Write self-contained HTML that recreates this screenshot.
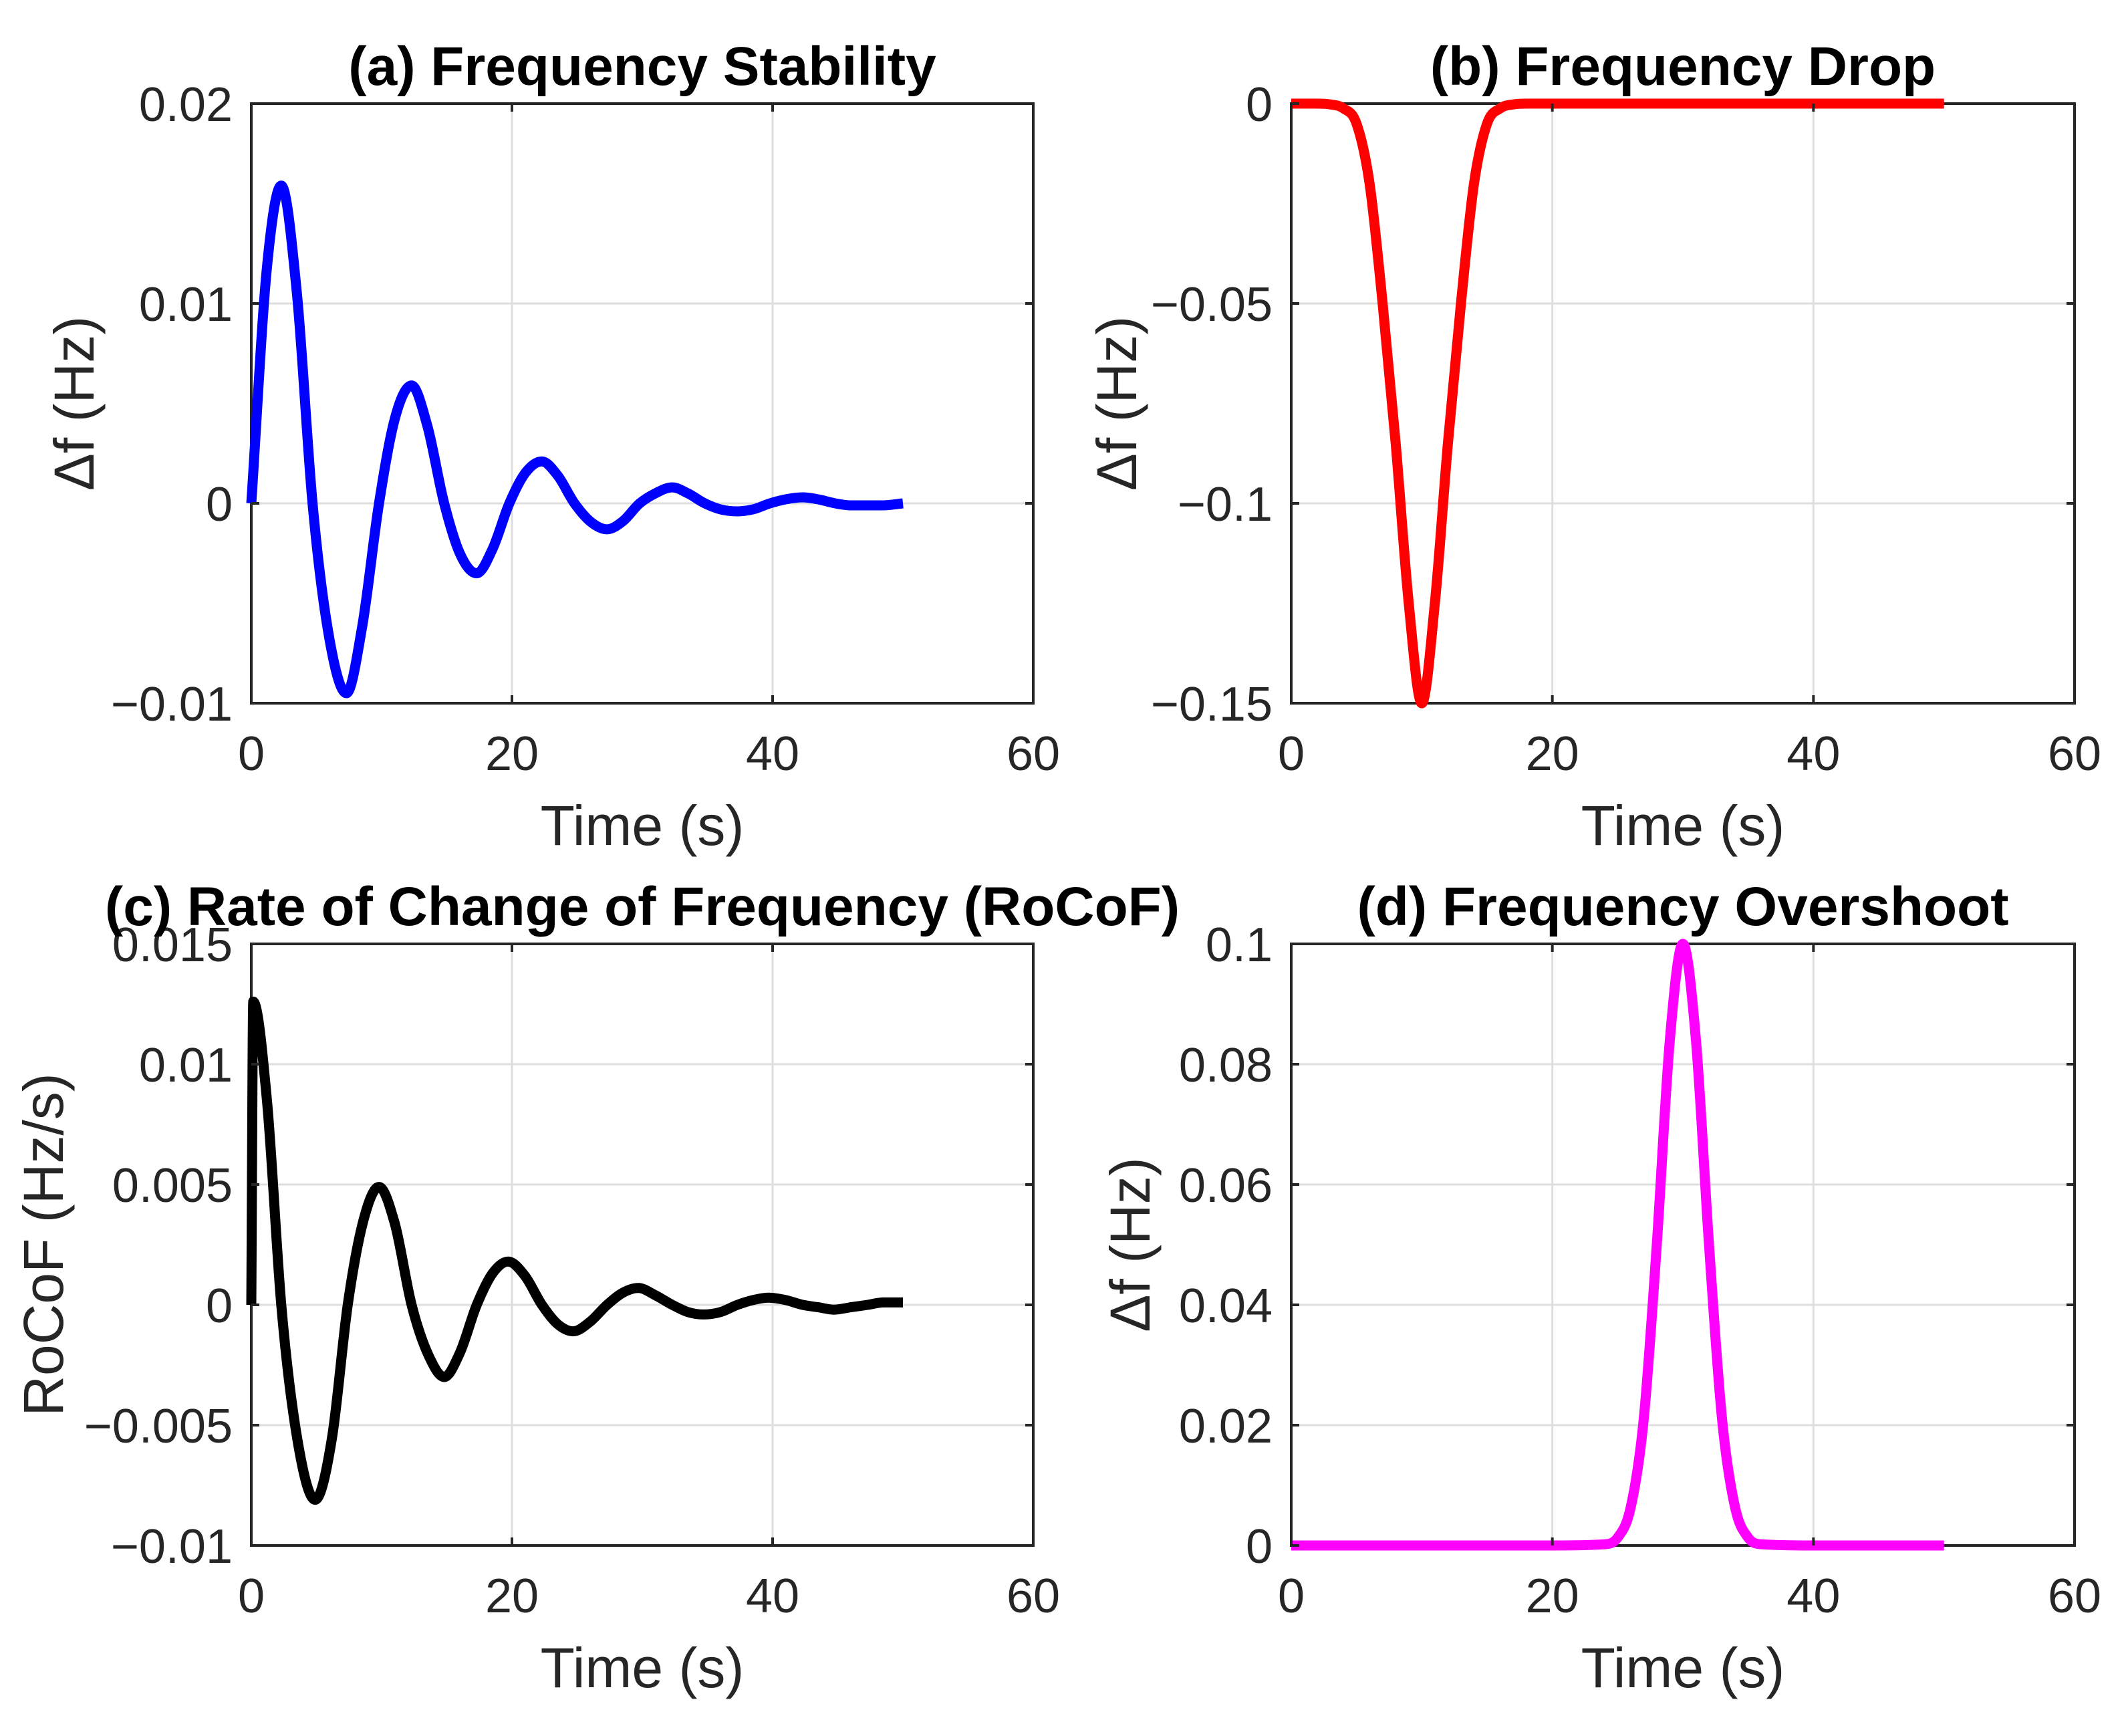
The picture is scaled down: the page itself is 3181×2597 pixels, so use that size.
<!DOCTYPE html>
<html><head><meta charset="utf-8"><style>
html,body{margin:0;padding:0;background:#fff;}
svg{display:block;font-family:"Liberation Sans",Arial,sans-serif;}
</style></head><body>
<svg id="fig" width="3181" height="2597" viewBox="0 0 3181 2597" xmlns="http://www.w3.org/2000/svg"></svg>
<script>
// Panel (a) Frequency Stability
const tA = [0,1.2,2.3,3.5,4.7,6,7.3,8.5,9.8,11,12.3,13.5,14.8,16,17.3,18.5,19.8,21,22.3,23.5,24.8,26,27.3,28.5,29.8,31,32.3,33.5,34.8,36,37.3,38.5,39.8,41,42.3,43.5,44.8,46,47.3,48.5,50];
const vA = [0,0.0118,0.0159,0.0105,0,-0.0068,-0.0095,-0.0062,0,0.0042,0.0059,0.0039,0,-0.0025,-0.0035,-0.0023,0,0.0015,0.0021,0.0014,0,-0.0009,-0.0013,-0.0009,0,0.0005,0.0008,0.0005,0,-0.0003,-0.0004,-0.0003,0,0.0002,0.0003,0.0002,0,-0.0001,-0.0001,-0.0001,0];
// Panel (b) Frequency Drop
const tB = [0,2,3,4,5,6,7,8,9,10,11,12,13,14,15,16,17,18,20,30,40,50];
const vB = [0,0,-0.0002,-0.0012,-0.005,-0.02,-0.05,-0.085,-0.125,-0.150,-0.125,-0.085,-0.05,-0.02,-0.005,-0.0012,-0.0002,0,0,0,0,0];
// Panel (c) RoCoF
const tC = [0,0.15,1.2,2.3,3.6,4.9,6.2,7.4,8.6,9.8,11,12.3,13.6,14.8,16,17.3,18.5,19.7,21,22.3,23.5,24.7,26,27.3,28.5,29.7,31,32.3,33.5,34.7,36,37.3,38.5,39.7,41,42.3,43.5,44.7,46,47.3,48.5,50];
const vC = [0,0.0126,0.0085,0,-0.0058,-0.0081,-0.0055,0,0.0035,0.0049,0.0034,0,-0.0021,-0.0030,-0.0020,0,0.0013,0.0018,0.0012,0,-0.0008,-0.0011,-0.0007,0,0.0005,0.0007,0.0004,0,-0.0003,-0.0004,-0.0003,0,0.0002,0.0003,0.0002,0,-0.0001,-0.0002,-0.0001,0,0.0001,0.0001];
// Panel (d) Frequency Overshoot
const tD = [0,10,20,24,25,26,27,28,29,30,31,32,33,34,35,36,40,50];
const vD = [0,0,0,0.0002,0.0013,0.0063,0.021,0.050,0.084,0.100,0.084,0.050,0.021,0.0063,0.0013,0.0002,0,0];
const xTicks = [0,20,40,60];
const yTicksA = [-0.01,0,0.01,0.02], yLabA = ["\u22120.01","0","0.01","0.02"];
const yTicksB = [-0.15,-0.1,-0.05,0], yLabB = ["\u22120.15","\u22120.1","\u22120.05","0"];
const yTicksC = [-0.01,-0.005,0,0.005,0.01,0.015], yLabC = ["\u22120.01","\u22120.005","0","0.005","0.01","0.015"];
const yTicksD = [0,0.02,0.04,0.06,0.08,0.1], yLabD = ["0","0.02","0.04","0.06","0.08","0.1"];

const NS="http://www.w3.org/2000/svg";
const svg=document.getElementById('fig');
function mk(tag,attrs,parent){const e=document.createElementNS(NS,tag);for(const k in attrs)e.setAttribute(k,attrs[k]);(parent||svg).appendChild(e);return e;}

function curvePath(t,v,sx,sy){
  const n=t.length, m=[], ds=[];
  for(let i=0;i<n-1;i++) ds.push((v[i+1]-v[i])/(t[i+1]-t[i]));
  for(let i=0;i<n;i++){
    if(i===0) m.push(ds[0]);
    else if(i===n-1) m.push(ds[n-2]);
    else{
      const d0=ds[i-1], d1=ds[i];
      if(d0*d1<=0) m.push(0);
      else{
        let mm=(d0*(t[i+1]-t[i])+d1*(t[i]-t[i-1]))/(t[i+1]-t[i-1]);
        const lim=3*Math.min(Math.abs(d0),Math.abs(d1));
        if(Math.abs(mm)>lim) mm=Math.sign(mm)*lim;
        m.push(mm);
      }
    }
  }
  let d='M'+sx(t[0])+','+sy(v[0]);
  for(let i=0;i<n-1;i++){
    const h=t[i+1]-t[i];
    d+=' C'+sx(t[i]+h/3)+','+sy(v[i]+m[i]*h/3)+' '+sx(t[i+1]-h/3)+','+sy(v[i+1]-m[i+1]*h/3)+' '+sx(t[i+1])+','+sy(v[i+1]);
  }
  return d;
}

function panel(cfg){
  const g=mk('g',{});
  
  
  const {x0,x1,y0,y1,ymin,ymax}=cfg;
  const sx=v=>x0+(v-0)/(60-0)*(x1-x0);
  const sy=v=>y1-(v-ymin)/(ymax-ymin)*(y1-y0);
  xTicks.forEach(t=>{ if(t>0&&t<60){const l=mk('line',{x1:sx(t),x2:sx(t),y1:y0,y2:y1,stroke:'#dedede','stroke-width':3},g);
    
    }});
  cfg.yt.forEach(v=>{ if(v>ymin&&v<ymax){const l=mk('line',{x1:x0,x2:x1,y1:sy(v),y2:sy(v),stroke:'#dedede','stroke-width':3},g);
    
    }});
  const box=mk('rect',{x:x0,y:y0,width:x1-x0,height:y1-y0,fill:'none',stroke:'#262626','stroke-width':4},g);
  
  
  const line=mk('path',{d:curvePath(cfg.t,cfg.v,sx,sy),fill:'none',stroke:cfg.color,'stroke-width':15,'stroke-linejoin':'round','stroke-linecap':'butt'},g);
  
  
  xTicks.forEach(t=>{
    mk('line',{x1:sx(t),x2:sx(t),y1:y1,y2:y1-12,stroke:'#262626','stroke-width':4},g);
    mk('line',{x1:sx(t),x2:sx(t),y1:y0,y2:y0+12,stroke:'#262626','stroke-width':4},g);
    const tx=mk('text',{x:sx(t),y:y1+100,'font-size':72,'text-anchor':'middle',fill:'#262626'},g);
    tx.textContent=t;
    
    
  });
  cfg.yt.forEach((v,i)=>{
    mk('line',{x1:x0,x2:x0+12,y1:sy(v),y2:sy(v),stroke:'#262626','stroke-width':4},g);
    mk('line',{x1:x1,x2:x1-12,y1:sy(v),y2:sy(v),stroke:'#262626','stroke-width':4},g);
    const tx=mk('text',{x:x0-28,y:sy(v)+26,'font-size':72,'text-anchor':'end',fill:'#262626'},g);
    tx.textContent=cfg.yl[i];
    
    
  });
  const xl=mk('text',{x:(x0+x1)/2,y:y1+212,'font-size':84,'text-anchor':'middle',fill:'#262626'},g);
  xl.textContent='Time (s)';
  
  
  const yl=mk('text',{x:0,y:0,'font-size':84,'text-anchor':'middle',fill:'#262626',transform:'translate('+cfg.ylx+','+(y0+y1)/2+') rotate(-90)'},g);
  yl.textContent=cfg.ylabel;
  
  
  const ti=mk('text',{x:cfg.titleX,y:y0-28,'font-size':82,'font-weight':'bold','text-anchor':'middle',fill:'#000'},g);
  ti.textContent=cfg.title;
  
  
}
panel({name:'panel-a-frequency-stability',series:'frequency-stability-line',x0:376,x1:1546,y0:155,y1:1052,ymin:-0.01,ymax:0.02,yt:yTicksA,yl:yLabA,t:tA,v:vA,color:'#0000ff',ylx:140,ylabel:'\u0394f (Hz)',title:'(a) Frequency Stability',titleX:961});
panel({name:'panel-b-frequency-drop',series:'frequency-drop-line',x0:1932,x1:3104,y0:155,y1:1052,ymin:-0.15,ymax:0,yt:yTicksB,yl:yLabB,t:tB,v:vB,color:'#ff0000',ylx:1700,ylabel:'\u0394f (Hz)',title:'(b) Frequency Drop',titleX:2518});
panel({name:'panel-c-rocof',series:'rocof-line',x0:376,x1:1546,y0:1412,y1:2312,ymin:-0.01,ymax:0.015,yt:yTicksC,yl:yLabC,t:tC,v:vC,color:'#000000',ylx:94,ylabel:'RoCoF (Hz/s)',title:'(c) Rate of Change of Frequency (RoCoF)',titleX:961});
panel({name:'panel-d-frequency-overshoot',series:'frequency-overshoot-line',x0:1932,x1:3104,y0:1412,y1:2312,ymin:0,ymax:0.1,yt:yTicksD,yl:yLabD,t:tD,v:vD,color:'#ff00ff',ylx:1720,ylabel:'\u0394f (Hz)',title:'(d) Frequency Overshoot',titleX:2518});
</script>
</body></html>
